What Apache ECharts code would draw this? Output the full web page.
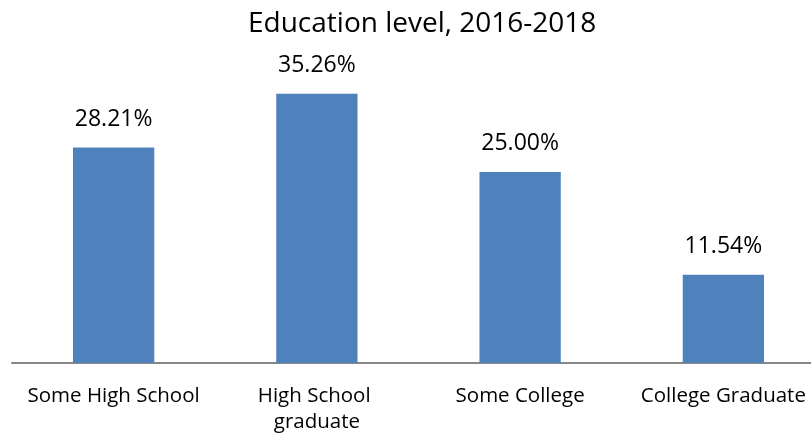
<!DOCTYPE html>
<html>
<head>
<meta charset="utf-8">
<script src="https://cdn.jsdelivr.net/npm/echarts@6/dist/echarts.min.js"></script>
<style>
html,body{margin:0;padding:0;background:#fff;overflow:hidden;}
#chart{width:826px;height:435px;}
</style>
</head>
<body>
<div id="chart"></div>
<script>
const titleText = 'Education level, 2016-2018';
const categories = ['Some High School', 'High School graduate', 'Some College', 'College Graduate'];
const values = [28.21, 35.26, 25.00, 11.54];
const yMax = 40;

const chart = echarts.init(document.getElementById('chart'), null, {renderer: 'canvas'});
chart.setOption({
  animation: false,
  backgroundColor: '#ffffff',
  textStyle: {fontFamily: 'Open Sans'},
  title: {
    text: titleText,
    left: 243,
    top: 5,
    textStyle: {fontFamily: 'Open Sans', fontSize: 28, fontWeight: 'normal', color: '#000000'}
  },
  grid: {left: 12, top: 57.5, width: 813, height: 307, containLabel: false},
  xAxis: {
    type: 'category',
    data: categories,
    axisLine: {show: true, lineStyle: {color: '#878787', width: 2}},
    axisTick: {show: false},
    splitLine: {show: false},
    axisLabel: {
      interval: 0,
      margin: 20,
      fontFamily: 'Open Sans',
      fontSize: 20.5,
      lineHeight: 26,
      color: '#000000',
      width: 190,
      overflow: 'break'
    }
  },
  yAxis: {
    type: 'value',
    min: 0,
    max: yMax,
    show: false,
    splitLine: {show: false}
  },
  series: [{
    type: 'bar',
    data: values,
    barCategoryGap: '60%',
    itemStyle: {color: '#4F81BD'},
    label: {
      show: true,
      position: 'top',
      distance: 17,
      fontFamily: 'Open Sans',
      fontSize: 23,
      color: '#000000',
      formatter: p => p.value.toFixed(2) + '%'
    }
  }]
});
</script>
</body>
</html>
